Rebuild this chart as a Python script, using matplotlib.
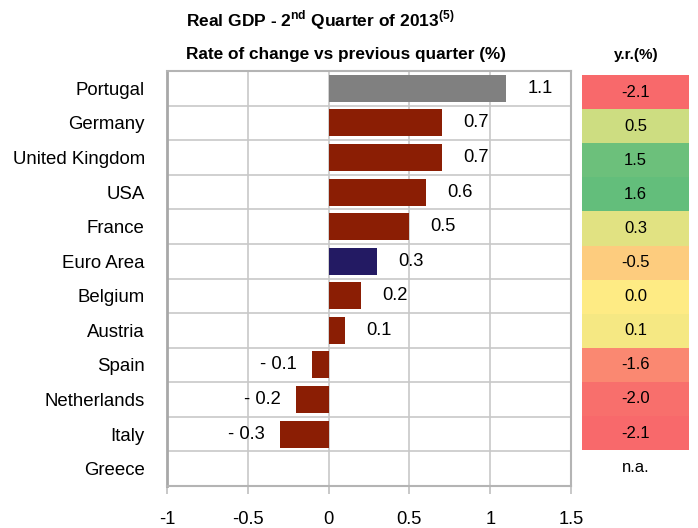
import matplotlib
matplotlib.use("Agg")
import matplotlib.pyplot as plt
from matplotlib.colors import LinearSegmentedColormap, TwoSlopeNorm

plt.rcParams["font.family"] = ["Liberation Sans", "DejaVu Sans"]
plt.rcParams["axes.unicode_minus"] = False
plt.rcParams["mathtext.fontset"] = "custom"
plt.rcParams["mathtext.bf"] = "Liberation Sans:bold"
plt.rcParams["mathtext.rm"] = "Liberation Sans:bold"

countries = ["Portugal", "Germany", "United Kingdom", "USA", "France", "Euro Area",
             "Belgium", "Austria", "Spain", "Netherlands", "Italy", "Greece"]
qoq = [1.1, 0.7, 0.7, 0.6, 0.5, 0.3, 0.2, 0.1, -0.1, -0.2, -0.3, None]
yoy = [-2.1, 0.5, 1.5, 1.6, 0.3, -0.5, 0.0, 0.1, -1.6, -2.0, -2.1, None]
xticks = [-1, -0.5, 0, 0.5, 1, 1.5]
xticklabels = ["-1", "-0.5", "0", "0.5", "1", "1.5"]

fig = plt.figure(figsize=(6.98, 5.28), dpi=100)
W, H = 698, 528

def fx(px):
    return px / W

def fy(py):
    return 1 - py / H

ax = fig.add_axes([fx(167), fy(486), fx(571) - fx(167), fy(71) - fy(486)])
n = len(countries)
ypos = list(range(n))

colors = []
for c in countries:
    if c == "Portugal":
        colors.append("#808080")
    elif c == "Euro Area":
        colors.append("#231A63")
    else:
        colors.append("#8B1E04")

vals = [v if v is not None else 0 for v in qoq]
ax.barh(ypos, vals, height=0.78, color=colors, zorder=3)

for y, v in zip(ypos, qoq):
    if v is None:
        continue
    if v >= 0:
        ax.text(v + 0.21, y, f"{v:.1f}", ha="center", va="center", fontsize=13.2, zorder=4)
    else:
        ax.text(v - 0.21, y, f"- {abs(v):.1f}", ha="center", va="center", fontsize=13.2, zorder=4)

ax.set_xlim(-1, 1.5)
ax.set_ylim(n - 0.5, -0.5)
ax.set_xticks(xticks)
ax.set_xticklabels(xticklabels, fontsize=13.2)
ax.set_yticks(ypos)
ax.set_yticklabels(countries, fontsize=13.4)
ax.tick_params(axis="y", length=0, pad=16)
ax.tick_params(axis="x", length=6, width=1.2, color="#BFBFBF", pad=12)
for x in xticks:
    ax.axvline(x, color="#C8C8C8", lw=1.2, zorder=1)
for k in range(n + 1):
    ax.axhline(k - 0.5, color="#C8C8C8", lw=1.2, zorder=1)
for s in ax.spines.values():
    s.set_color("#B4B4B4")
    s.set_linewidth(1.5)
ax.spines["left"].set_color("#A8A8A8")
ax.spines["left"].set_linewidth(2)

# Year-on-year column
ax2 = fig.add_axes([fx(582), fy(75 + 12 * 34.1), fx(689) - fx(582), fy(75) - fy(75 + 12 * 34.1)])
cmap = LinearSegmentedColormap.from_list("exl", ["#F8696B", "#FFEB84", "#63BE7B"])
norm = TwoSlopeNorm(vmin=min(v for v in yoy if v is not None), vcenter=0.0,
                    vmax=max(v for v in yoy if v is not None))
for y, v in zip(ypos, yoy):
    if v is None:
        ax2.text(0.5, y, "n.a.", ha="center", va="center", fontsize=12)
        continue
    ax2.barh(y, 1, left=0, height=1.0, color=cmap(norm(v)), lw=0)
    ax2.text(0.5, y, f"{v:.1f}", ha="center", va="center", fontsize=12)
ax2.set_xlim(0, 1)
ax2.set_ylim(n - 0.5, -0.5)
ax2.axis("off")

fig.text(fx(636), fy(55), "y.r.(%)", ha="center", va="center", fontsize=11,
         fontweight="bold")

fig.text(fx(186), fy(20), r"Real GDP - 2$^{\mathbf{nd}}$ Quarter of 2013$^{\mathbf{(5)}}$",
         ha="left", va="center", fontsize=12.5, fontweight="bold")
fig.text(fx(186), fy(55), "Rate of change vs previous quarter (%)",
         ha="left", va="center", fontsize=12.4, fontweight="bold")

fig.savefig("out.png", dpi=100, facecolor="white")
